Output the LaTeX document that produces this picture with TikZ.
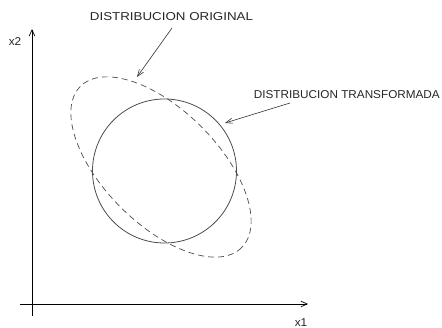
\documentclass[tikz,border=0pt]{standalone}
\usepackage{fontspec}
\newfontfamily\cadfont[FakeStretch=1.03]{Liberation Sans}
\newfontfamily\cadwide[FakeStretch=1.17]{Liberation Sans}
\usepackage{tikz}
\usetikzlibrary{arrows.meta, positioning, calc}

\begin{document}
\begin{tikzpicture}[
    x=1pt, y=-1pt,
    axis/.style={-{Straight Barb[length=2.2mm, width=2mm]}, line width=0.7pt, black},
    label/.style={font=\cadfont\fontsize{11.4}{12}\selectfont, inner sep=1pt, text=black!85},
    widelabel/.style={label, font=\cadwide\fontsize{11.4}{12}\selectfont},
    pointer/.style={-{Straight Barb[length=2.4mm, width=1.8mm]}, line width=0.6pt, black!80},
    orig/.style={dash pattern=on 6pt off 4pt, line width=0.7pt, black!70},
    trans/.style={line width=0.8pt, black!70},
  ]
    \useasboundingbox (0,0) rectangle (442,328);

    % axes
    \coordinate (o) at (32,304);
    \coordinate (xstart) at (20,304);
    \coordinate (xend) at (308,304);
    \coordinate (ystart) at (32,316);
    \coordinate (yend) at (32,29);
    \draw[axis] (xstart) -- (xend);
    \draw[axis] (ystart) -- (yend);
    \node[label] (xlab) at (301,323) {x1};
    \node[label] (ylab) at (15,42) {x2};

    % distributions
    \coordinate (c) at (164.5,171);
    \coordinate (e) at (161,167);
    \draw[orig, rotate around={-45:(e)}] (e) ellipse [x radius=114, y radius=57];
    \draw[trans] (c) circle [radius=72];

    % labels
    \node[widelabel] (origlab) at (171.5,16.5) {DISTRIBUCION ORIGINAL};
    \node[label, anchor=east] (translab) at (441,94.5) {DISTRIBUCION TRANSFORMADA};
    \coordinate (origtail) at (172,28);
    \coordinate (origtip) at (137,77);
    \coordinate (transtail) at (290,103);
    \coordinate (transtip) at (225,123);
    \draw[pointer] (origtail) -- (origtip);
    \draw[pointer] (transtail) -- (transtip);
  \end{tikzpicture}
\end{document}
